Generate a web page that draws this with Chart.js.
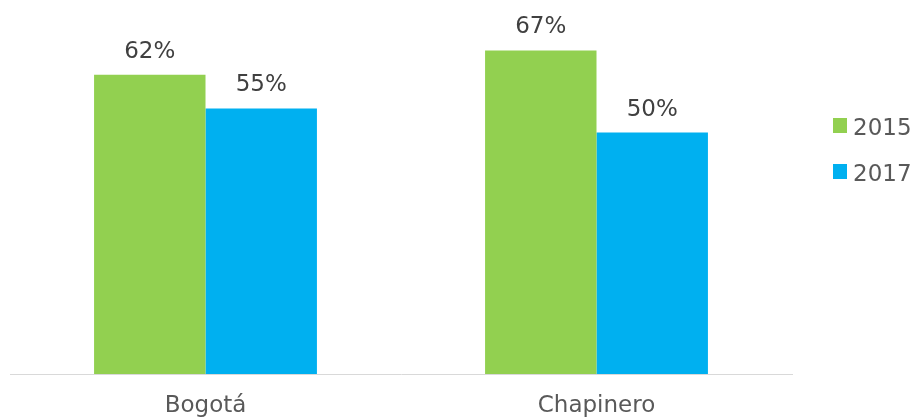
<!DOCTYPE html>
<html lang="es">
<head>
<meta charset="UTF-8">
<title>Bogotá vs Chapinero</title>
<script src="https://cdn.jsdelivr.net/npm/chart.js"></script>
<style>
    body { margin: 0; background: #ffffff; }
    .chart-box { width: 917px; height: 420px; position: relative; }
</style>
</head>
<body>
<div class="chart-box">
    <canvas id="barChart"></canvas>
</div>
<script>
// datos
const categories = ['Bogotá', 'Chapinero'];
const years = ['2015', '2017'];
const values2015 = [62, 67];
const values2017 = [55, 50];

const FONT = 'DejaVu Sans, Verdana, sans-serif';

// etiquetas de valor encima de cada barra
const valueLabels = {
    id: 'valueLabels',
    afterDatasetsDraw(chart) {
        const ctx = chart.ctx;
        ctx.save();
        ctx.font = '23px ' + FONT;
        ctx.fillStyle = '#404040';
        ctx.textAlign = 'center';
        ctx.textBaseline = 'alphabetic';
        chart.data.datasets.forEach((ds, i) => {
            chart.getDatasetMeta(i).data.forEach((bar, j) => {
                ctx.fillText(ds.data[j] + '%', bar.x, bar.y - 17);
            });
        });
        ctx.restore();
    }
};

// leyenda a la derecha
const sideLegend = {
    id: 'sideLegend',
    afterDraw(chart) {
        const ctx = chart.ctx;
        ctx.save();
        ctx.font = '23px ' + FONT;
        ctx.fillStyle = '#595959';
        ctx.textBaseline = 'alphabetic';
        chart.data.datasets.forEach((ds, i) => {
            const y = 118 + i * 46;
            ctx.fillStyle = ds.backgroundColor;
            ctx.fillRect(833, y, 14, 15);
            ctx.fillStyle = '#595959';
            ctx.fillText(ds.label, 853, y + 17);
        });
        ctx.restore();
    }
};

new Chart(document.getElementById('barChart'), {
    type: 'bar',
    data: {
        labels: categories,
        datasets: [
            { label: years[0], data: values2015, backgroundColor: '#92d050' },
            { label: years[1], data: values2017, backgroundColor: '#00b0f0' }
        ]
    },
    options: {
        responsive: true,
        maintainAspectRatio: false,
        animation: false,
        layout: { padding: { left: 10, right: 125, top: 36, bottom: 0 } },
        datasets: {
            bar: { categoryPercentage: 0.57, barPercentage: 1.0 }
        },
        scales: {
            x: {
                grid: { display: false, drawTicks: false },
                border: { display: true, color: '#d9d9d9', width: 1 },
                ticks: {
                    color: '#595959',
                    font: { family: FONT, size: 23 },
                    padding: 18
                },
                afterFit(scale) { scale.height = 46; }
            },
            y: {
                display: false,
                min: 0,
                max: 70
            }
        },
        plugins: {
            legend: { display: false },
            tooltip: { enabled: false }
        }
    },
    plugins: [valueLabels, sideLegend]
});
</script>
</body>
</html>
